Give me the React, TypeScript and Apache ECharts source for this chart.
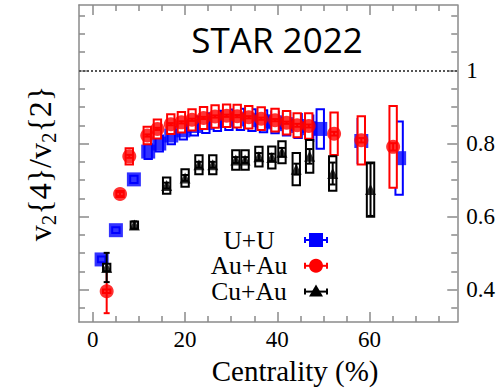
import React, { useEffect, useRef } from "react";
import * as echarts from "echarts";

// ---------------- data ----------------
const UU_X = [1.9, 5.0, 8.9, 12.0, 14.4, 17.0, 19.6, 22.0, 24.5, 27.0, 29.5, 32.0, 34.5, 37.0, 39.5, 42.0, 44.5, 47.0, 49.3, 58.2, 66.4];
const UU_Y = [0.483, 0.563, 0.702, 0.778, 0.8, 0.822, 0.836, 0.848, 0.856, 0.862, 0.865, 0.866, 0.864, 0.861, 0.858, 0.853, 0.848, 0.842, 0.84, 0.807, 0.76];
const UU_SYS = [0.008, 0.008, 0.01, 0.02, 0.022, 0.024, 0.025, 0.026, 0.027, 0.028, 0.028, 0.029, 0.03, 0.03, 0.03, 0.031, 0.033, 0.035, 0.054, 0.06, 0.1];

const AUAU_X = [3.0, 5.9, 7.9, 11.8, 14.0, 16.9, 19.2, 21.5, 24.0, 26.5, 29.0, 31.3, 33.8, 36.5, 39.5, 42.0, 44.3, 46.8, 52.3, 58.2, 65.1];
const AUAU_Y = [0.396, 0.662, 0.765, 0.822, 0.84, 0.853, 0.858, 0.865, 0.87, 0.874, 0.876, 0.875, 0.872, 0.868, 0.864, 0.857, 0.85, 0.848, 0.827, 0.809, 0.791];
const AUAU_SYS = [0.005, 0.008, 0.022, 0.024, 0.026, 0.027, 0.028, 0.029, 0.03, 0.031, 0.031, 0.031, 0.031, 0.031, 0.031, 0.032, 0.033, 0.035, 0.058, 0.066, 0.112];
const AUAU_STAT = [0.06, 0.005, 0.004, 0.003, 0.003, 0.003, 0.003, 0.003, 0.003, 0.003, 0.003, 0.003, 0.003, 0.003, 0.003, 0.003, 0.004, 0.004, 0.005, 0.006, 0.01];

const CUAU_X = [3.0, 9.0, 16.0, 20.0, 23.0, 26.0, 31.0, 33.0, 36.0, 38.8, 41.0, 44.1, 47.0, 52.0, 60.2];
const CUAU_Y = [0.461, 0.577, 0.685, 0.706, 0.742, 0.742, 0.755, 0.755, 0.764, 0.762, 0.776, 0.73, 0.765, 0.718, 0.674];
const CUAU_SYS = [0.01, 0.01, 0.022, 0.024, 0.026, 0.026, 0.027, 0.027, 0.027, 0.03, 0.03, 0.044, 0.045, 0.047, 0.074];
const CUAU_STAT = [0.04, 0.01, 0.008, 0.008, 0.008, 0.008, 0.008, 0.008, 0.01, 0.01, 0.012, 0.015, 0.02, 0.03, 0.072];

const X_MAJOR = [0, 20, 40, 60];
const X_MINOR = [5, 10, 15, 25, 30, 35, 45, 50, 55, 65, 70, 75];
const Y_MAJOR = [0.4, 0.6, 0.8, 1.0];
const Y_MINOR = [0.35, 0.45, 0.5, 0.55, 0.65, 0.7, 0.75, 0.85, 0.9, 0.95, 1.05, 1.1, 1.15];

const LEGEND = [
  { name: "U+U", color: "#0000ff", symbol: "rect" },
  { name: "Au+Au", color: "#ff0000", symbol: "circle" },
  { name: "Cu+Au", color: "#000000", symbol: "triangle" },
];

const TITLE = "STAR 2022";
const X_NAME = "Centrality (%)";

// ---------------- style ----------------
const SERIF = '"Liberation Serif", "Times New Roman", serif';
const GRAY = "#8a8a8a";
const X_MIN = -3, X_MAX = 79, Y_MIN = 0.3116, Y_MAX = 1.179;
const LEG_Y0 = 240, LEG_DY = 25.8;

function sysSeries(xs: number[], ys: number[], hs: number[], color: string, halfW: number, z: number) {
  return {
    type: "custom",
    z,
    silent: true,
    data: xs.map((x, i) => [x, ys[i], hs[i]]),
    encode: { x: 0, y: 1 },
    renderItem: (params: any, api: any) => {
      const x = api.value(0), y = api.value(1), h = api.value(2);
      const p1 = api.coord([x - halfW, y + h]);
      const p2 = api.coord([x + halfW, y - h]);
      return {
        type: "rect",
        shape: { x: p1[0], y: p1[1], width: p2[0] - p1[0], height: p2[1] - p1[1] },
        style: { fill: "#ffffff", stroke: color, lineWidth: 2 },
      };
    },
  };
}

function statSeries(xs: number[], ys: number[], es: number[], color: string, z: number) {
  return {
    type: "custom",
    z,
    silent: true,
    data: xs.map((x, i) => [x, ys[i], es[i]]),
    encode: { x: 0, y: 1 },
    renderItem: (params: any, api: any) => {
      const x = api.value(0), y = api.value(1), e = api.value(2);
      const t = api.coord([x, y + e]);
      const b = api.coord([x, y - e]);
      return {
        type: "group",
        children: [
          { type: "line", shape: { x1: t[0], y1: t[1], x2: b[0], y2: b[1] }, style: { stroke: color, lineWidth: 2 } },
          { type: "line", shape: { x1: t[0] - 3, y1: t[1], x2: t[0] + 3, y2: t[1] }, style: { stroke: color, lineWidth: 2 } },
          { type: "line", shape: { x1: b[0] - 3, y1: b[1], x2: b[0] + 3, y2: b[1] }, style: { stroke: color, lineWidth: 2 } },
        ],
      };
    },
  };
}

function xAxisDef(position: string, values: number[], len: number, showLine: boolean, showLabel: boolean, name?: string) {
  return {
    type: "value",
    position,
    min: X_MIN,
    max: X_MAX,
    axisLine: { show: showLine, onZero: false, lineStyle: { color: GRAY, width: 1.5 } },
    axisTick: { show: true, inside: true, length: len, customValues: values, lineStyle: { color: GRAY, width: 1.5 } },
    axisLabel: showLabel
      ? { show: true, customValues: values, fontFamily: SERIF, fontSize: 23, color: "#000", margin: 6 }
      : { show: false },
    splitLine: { show: false },
    name: name || "",
    nameLocation: "middle",
    nameGap: 30,
    nameTextStyle: { fontFamily: SERIF, fontSize: 29, color: "#000", padding: [0, 0, 0, 54] },
  };
}

function yAxisDef(position: string, values: number[], len: number, showLine: boolean, showLabel: boolean, withName: boolean) {
  return {
    type: "value",
    position,
    min: Y_MIN,
    max: Y_MAX,
    axisLine: { show: showLine, onZero: false, lineStyle: { color: GRAY, width: 1.5 } },
    axisTick: { show: true, inside: true, length: len, customValues: values, lineStyle: { color: GRAY, width: 1.5 } },
    axisLabel: showLabel
      ? {
          show: true,
          customValues: values,
          fontFamily: SERIF,
          fontSize: 23,
          color: "#000",
          margin: 9,
          formatter: (v: number) => String(Math.round(v * 10) / 10),
        }
      : { show: false },
    splitLine: { show: false },
    name: withName ? "v{s|2}{4}/v{s|2}{2}" : "",
    nameLocation: "middle",
    nameRotate: 90,
    nameGap: 20,
    nameTextStyle: {
      fontFamily: SERIF,
      fontSize: 32,
      color: "#000",
      lineHeight: 38,
      rich: {
        s: { fontFamily: SERIF, fontSize: 21, color: "#000", verticalAlign: "bottom", lineHeight: 38 },
      },
    },
  };
}

function legendGraphics() {
  const out: any[] = [];
  const cx = 249, mx = 316;
  out.push({
    type: "text",
    x: cx,
    y: LEG_Y0 + LEG_DY,
    style: {
      text: LEGEND.map((l) => l.name).join("\n"),
      fontFamily: SERIF,
      fontSize: 25.5,
      lineHeight: LEG_DY,
      fill: "#000",
      align: "center",
      verticalAlign: "middle",
    },
  });
  LEGEND.forEach((item, i) => {
    const y = LEG_Y0 + i * LEG_DY;
    out.push({ type: "line", shape: { x1: mx - 11, y1: y, x2: mx + 11, y2: y }, style: { stroke: item.color, lineWidth: 2 } });
    out.push({ type: "line", shape: { x1: mx - 11, y1: y - 3, x2: mx - 11, y2: y + 3 }, style: { stroke: item.color, lineWidth: 2 } });
    out.push({ type: "line", shape: { x1: mx + 11, y1: y - 3, x2: mx + 11, y2: y + 3 }, style: { stroke: item.color, lineWidth: 2 } });
    if (item.symbol === "rect") {
      out.push({ type: "rect", shape: { x: mx - 7, y: y - 7, width: 14, height: 14 }, style: { fill: item.color } });
    } else if (item.symbol === "circle") {
      out.push({ type: "circle", shape: { cx: mx, cy: y, r: 7 }, style: { fill: item.color } });
    } else {
      out.push({ type: "polygon", shape: { points: [[mx - 7, y + 5], [mx + 7, y + 5], [mx, y - 7]] }, style: { fill: item.color } });
    }
  });
  return out;
}

export default function App() {
  const ref = useRef<HTMLDivElement>(null);
  useEffect(() => {
    if (!ref.current) return;
    const chart = echarts.init(ref.current, null, { renderer: "svg" });
    const option: any = {
      animation: false,
      backgroundColor: "#fff",
      grid: { left: 79, right: 40, top: 5, bottom: 61, containLabel: false },
      xAxis: [
        xAxisDef("bottom", X_MAJOR, 10, true, true, X_NAME),
        xAxisDef("bottom", X_MINOR, 6, false, false),
        xAxisDef("top", X_MAJOR, 10, true, false),
        xAxisDef("top", X_MINOR, 6, false, false),
      ],
      yAxis: [
        yAxisDef("left", Y_MAJOR, 10, true, false, true),
        yAxisDef("left", Y_MINOR, 6, false, false, false),
        yAxisDef("right", Y_MAJOR, 10, true, true, false),
        yAxisDef("right", Y_MINOR, 6, false, false, false),
      ],
      graphic: [
        {
          type: "text",
          x: 277,
          y: 39,
          style: { text: TITLE, fontFamily: '"Open Sans", sans-serif', fontSize: 35, fill: "#000", align: "center", verticalAlign: "middle" },
        },
        ...legendGraphics(),
      ],
      series: [
        {
          type: "line",
          data: [],
          z: 1,
          markLine: {
            silent: true,
            symbol: ["none", "none"],
            label: { show: false },
            lineStyle: { type: [2, 2], color: "#555", width: 2 },
            data: [{ yAxis: 1 }],
          },
        },
        sysSeries(UU_X, UU_Y, UU_SYS, "#0000ff", 0.8, 2),
        { type: "scatter", z: 3, symbol: "rect", symbolSize: 14, itemStyle: { color: "#0000ff" }, data: UU_X.map((x, i) => [x, UU_Y[i]]) },
        sysSeries(AUAU_X, AUAU_Y, AUAU_SYS, "#ff0000", 0.8, 4),
        statSeries(AUAU_X, AUAU_Y, AUAU_STAT, "#ff0000", 4),
        { type: "scatter", z: 5, symbol: "circle", symbolSize: 14, itemStyle: { color: "#ff0000" }, data: AUAU_X.map((x, i) => [x, AUAU_Y[i]]) },
        sysSeries(CUAU_X, CUAU_Y, CUAU_SYS, "#000000", 0.8, 6),
        statSeries(CUAU_X, CUAU_Y, CUAU_STAT, "#000000", 6),
        { type: "scatter", z: 7, symbol: "triangle", symbolSize: 11, itemStyle: { color: "#000000" }, data: CUAU_X.map((x, i) => [x, CUAU_Y[i]]) },
      ],
    };
    chart.setOption(option);
    return () => chart.dispose();
  }, []);
  return <div ref={ref} style={{ position: "fixed", left: 0, top: 0, width: 498, height: 390 }} />;
}
